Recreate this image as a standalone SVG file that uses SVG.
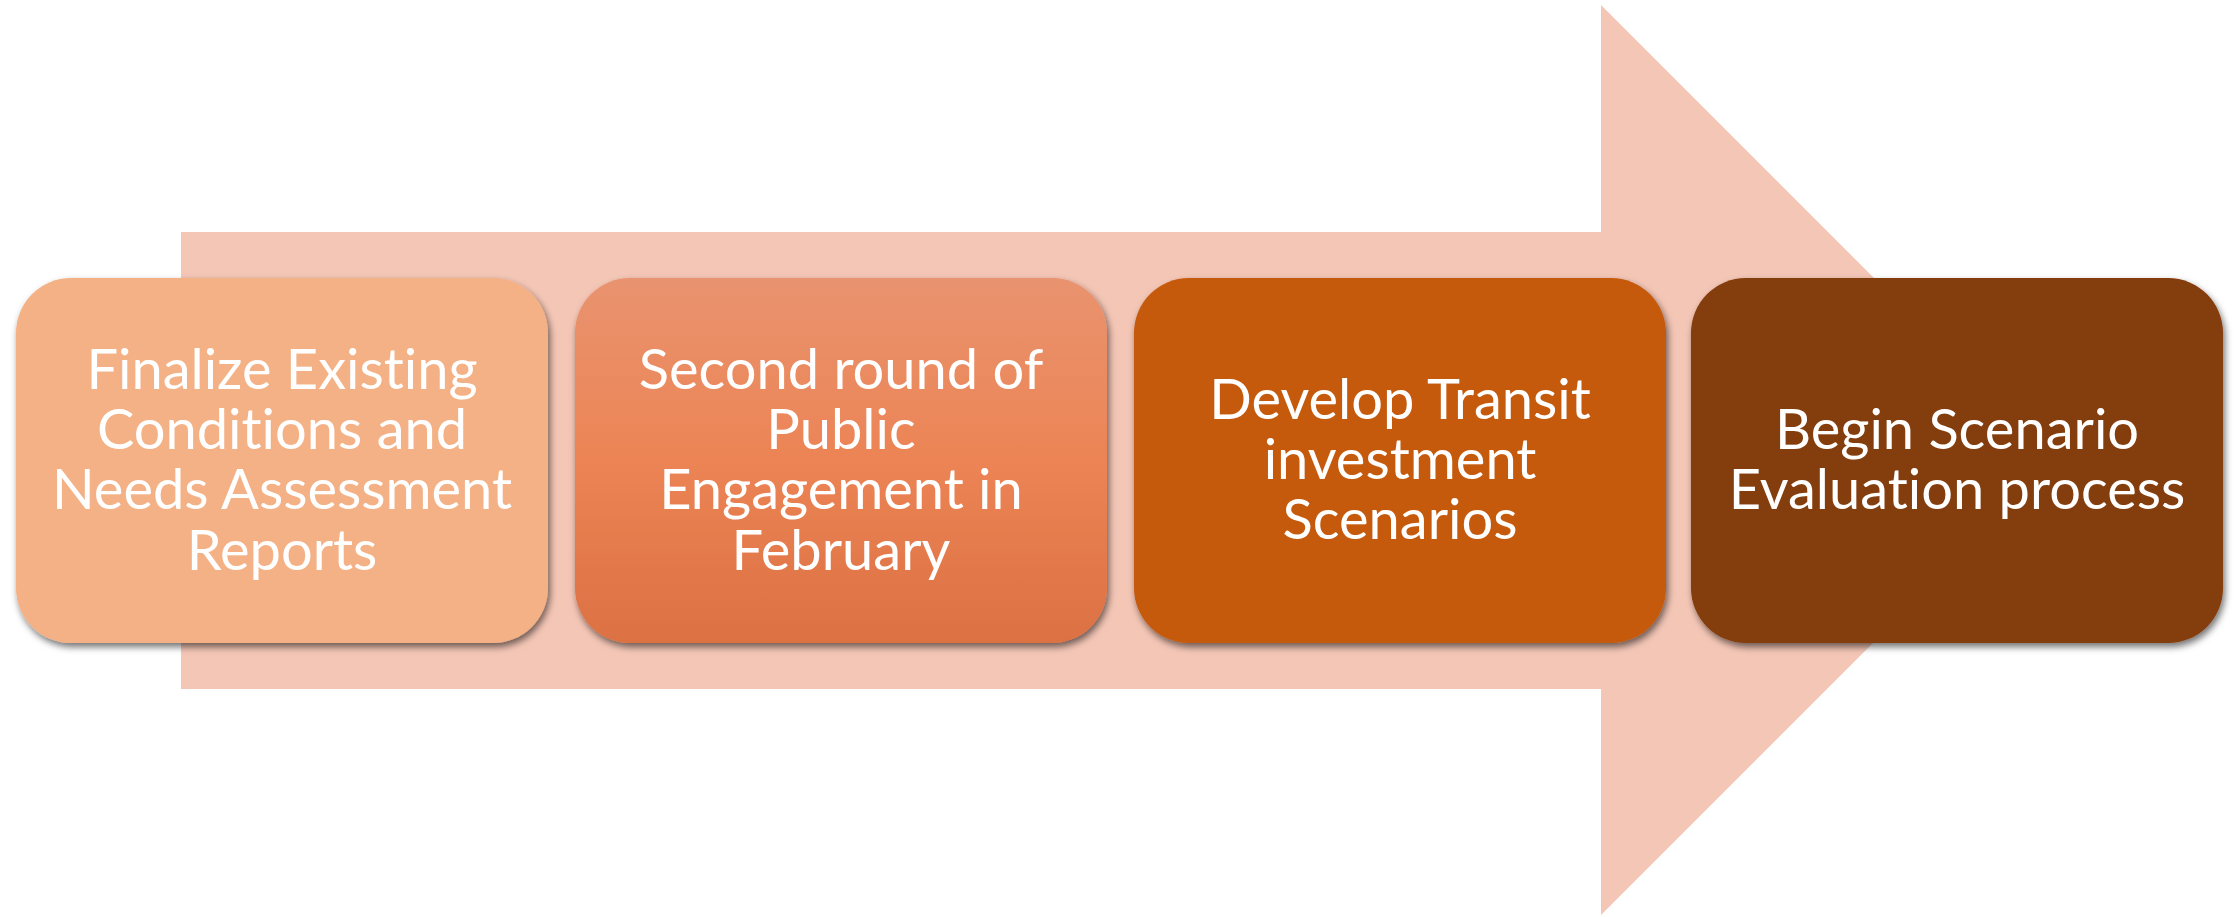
<svg xmlns="http://www.w3.org/2000/svg" width="2239" height="917" viewBox="0 0 2239 917">
  <defs>
    <filter id="sh" x="-10%" y="-10%" width="120%" height="130%">
      <feDropShadow dx="2" dy="4" stdDeviation="3.5" flood-color="#000" flood-opacity="0.55"/>
    </filter>
    <linearGradient id="g2" x1="0" y1="0" x2="0" y2="1">
      <stop offset="0" stop-color="#E9936F"/>
      <stop offset="0.5" stop-color="#EC8455"/>
      <stop offset="1" stop-color="#DC7143"/>
    </linearGradient>
  </defs>
  <style>
    .box { filter: url(#sh); }
    .lbl { font-family: Lato, "Liberation Sans", sans-serif; font-size: 56px; fill: #FFFFFF; text-anchor: middle; font-variant-ligatures: none; }
  </style>
  <rect width="2239" height="917" fill="#FFFFFF"/>
  <g id="arrow">
    <polygon points="181,232 1601,232 1601,5 2056,460 1601,915 1601,689 181,689" fill="#F4C6B6"/>
  </g>
  <g id="connectors"/>
  <g id="node1">
    <rect class="box" x="16" y="278" width="532" height="365" rx="55" ry="55" fill="#F3B185"/>
    <text class="lbl" x="282" y="389">Finalize Existing</text>
    <text class="lbl" x="282" y="449">Conditions and</text>
    <text class="lbl" x="282" y="509">Needs Assessment</text>
    <text class="lbl" x="282" y="570">Reports</text>
  </g>
  <g id="node2">
    <rect class="box" x="575" y="278" width="532" height="365" rx="55" ry="55" fill="url(#g2)"/>
    <text class="lbl" x="841" y="389">Second round of</text>
    <text class="lbl" x="841" y="449">Public</text>
    <text class="lbl" x="841" y="509">Engagement in</text>
    <text class="lbl" x="841" y="570">February</text>
  </g>
  <g id="node3">
    <rect class="box" x="1134" y="278" width="532" height="365" rx="55" ry="55" fill="#C55A11"/>
    <text class="lbl" x="1400" y="419">Develop Transit</text>
    <text class="lbl" x="1400" y="479">investment</text>
    <text class="lbl" x="1400" y="539">Scenarios</text>
  </g>
  <g id="node4">
    <rect class="box" x="1691" y="278" width="532" height="365" rx="55" ry="55" fill="#843C0C"/>
    <text class="lbl" x="1957" y="449">Begin Scenario</text>
    <text class="lbl" x="1957" y="509">Evaluation process</text>
  </g>
</svg>
